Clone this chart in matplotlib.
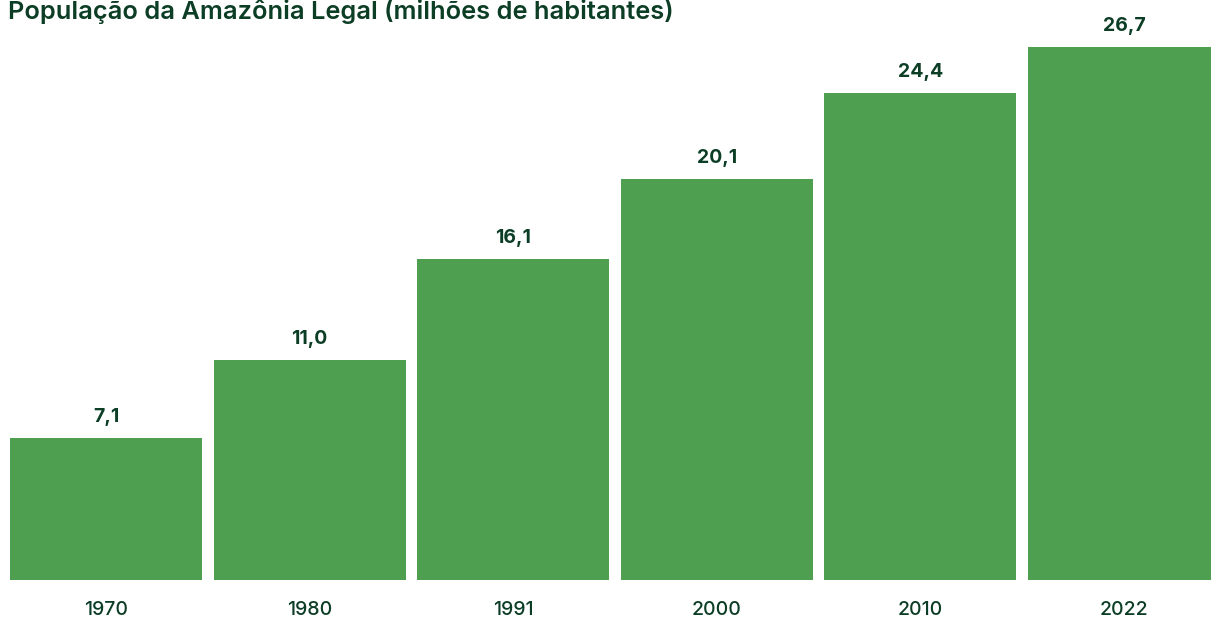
import matplotlib.pyplot as plt

anos = ["1970", "1980", "1991", "2000", "2010", "2022"]
populacao = [7.1, 11.0, 16.1, 20.1, 24.4, 26.7]
rotulos = ["7,1", "11,0", "16,1", "20,1", "24,4", "26,7"]

verde = "#4f9f51"
texto = "#0c3d25"

W, H = 1211, 619
fig = plt.figure(figsize=(W / 100, H / 100), dpi=100)
ax = fig.add_axes([0, 39 / H, 1, 1 - 39 / H])

x = range(len(anos))
ax.bar(x, populacao, width=192 / 203.6, color=verde)
ax.set_xlim(-106 / 203.6, (W - 106) / 203.6)
ax.set_ylim(0, (H - 39) / (533 / 26.7))
ax.axis("off")

for i, (v, r) in enumerate(zip(populacao, rotulos)):
    ax.text(i, v + 0.6, r, ha="center", va="bottom", fontsize=14,
            fontweight="bold", color=texto, family="Inter")
    ax.text(i, -1.5, anos[i], ha="center", va="center", fontsize=14,
            fontweight="medium", color=texto, family="Inter", clip_on=False)

fig.text(8 / W, 1 - 19 / H, "População da Amazônia Legal (milhões de habitantes)",
         fontsize=18.3, fontweight="semibold", color=texto, family="Inter",
         ha="left", va="baseline")

fig.savefig("out.png", dpi=100)
